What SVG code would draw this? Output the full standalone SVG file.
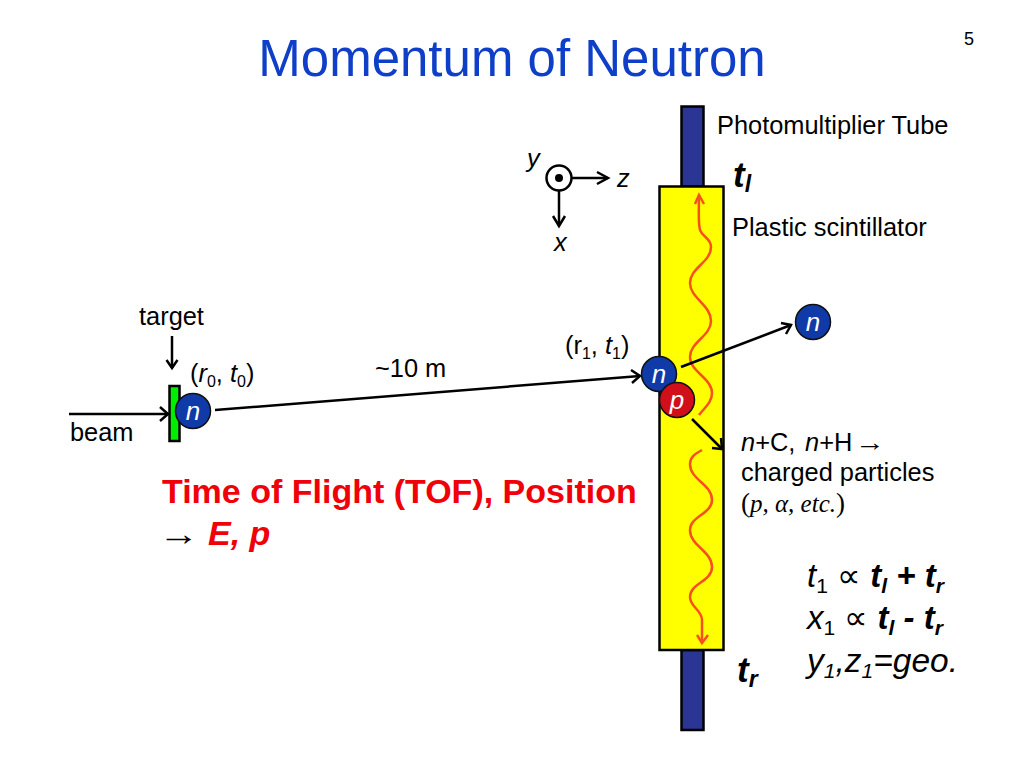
<svg xmlns="http://www.w3.org/2000/svg" width="1024" height="768" viewBox="0 0 1024 768">
<style>
text{font-family:"Liberation Sans",Arial,sans-serif;fill:#000}
.t{font-size:25.4px}
.i{font-style:italic}
.b{font-weight:bold;font-style:italic}
.ball{stroke:#111;stroke-width:1.5}
.bl{fill:#fff;font-size:26px;font-style:italic;text-anchor:middle}
.c{fill:none;stroke:#000;stroke-width:2.5}
.w{fill:none;stroke:#f5501e;stroke-width:2.5}
.f{font-size:33px}
.red{font-size:34px;font-weight:bold;fill:#f00008}
.s{font-family:"Liberation Serif",serif}
</style>
<rect width="1024" height="768" fill="#fff"/>
<text id="title" x="512" y="76" text-anchor="middle" font-size="51" style="fill:#0f3fc8">Momentum of Neutron</text>
<text x="964" y="45" font-size="18">5</text>
<g id="tube-top"><rect x="681.500" y="106.500" width="22" height="80" fill="#2b3593" stroke="#000" stroke-width="2.500"/></g>
<g id="tube-bottom"><rect x="681.500" y="650" width="22" height="80" fill="#2b3593" stroke="#000" stroke-width="2.500"/></g>
<g id="scintillator"><rect x="659.500" y="186.500" width="64" height="463.500" fill="#ff0" stroke="#000" stroke-width="2.500"/></g>
<g id="waves">
<path class="w" d="M699 195C699 212 698 222 700 230C703 238 711 238 711 247C711 262 690 268 690 283C690 298 711 305 711 321C711 336 690 342 690 357C690 372 712 378 712 393C712 403 704 408 699 415"/>
<path class="w" d="M695 204L699 195L704 204"/>
<path class="w" d="M702 450C697 453 690 456 690 464C690 480 712 484 712 500C712 514 690 516 690 530C690 546 712 551 712 567C712 582 690 583 690 597C690 607 702 610 702 620V643"/>
<path class="w" d="M697 635L702 643L708 635"/>
</g>
<g id="connectors">
<path class="c" d="M69 414H168"/><path class="c" d="M160 407L168 414L160 421"/>
<path class="c" d="M172 336V368"/><path class="c" d="M166.500 360L172 368L177.500 360"/>
<path class="c" d="M215 410L640 376"/><path class="c" d="M631 370L640 376L632 383"/>
<path class="c" d="M681 367L791 325"/><path class="c" d="M781 323L791 325L786 334"/>
<path class="c" d="M692 419L722 449"/><path class="c" d="M712 448L722 449L721 438"/>
<path class="c" d="M559 191V226"/><path class="c" d="M553 216L559 226L565 216"/>
<path class="c" d="M572 178H608"/><path class="c" d="M597 172L608 178L597 184"/>
</g>
<g id="target"><rect x="169.500" y="386" width="10" height="55" fill="#0e0" stroke="#000" stroke-width="2.500"/></g>
<g id="neutron-0"><circle class="ball" cx="193" cy="411" r="17.500" fill="#0f3aa8"/><text class="bl" x="193" y="420">n</text></g>
<g id="neutron-1"><circle class="ball" cx="659" cy="374" r="17.500" fill="#0f3aa8"/><text class="bl" x="659" y="383">n</text></g>
<g id="proton"><circle class="ball" cx="677" cy="400" r="17.500" fill="#d00f1a"/><text class="bl" x="677" y="409">p</text></g>
<g id="neutron-2"><circle class="ball" cx="813" cy="322" r="17.500" fill="#0f3aa8"/><text class="bl" x="813" y="331">n</text></g>
<g id="axes"><circle cx="559" cy="178" r="12.500" fill="#fff" stroke="#000" stroke-width="2.500"/><circle cx="559" cy="178" r="4" fill="#000"/></g>
<text class="t" x="717" y="134">Photomultiplier Tube</text>
<text class="t" x="732" y="236">Plastic scintillator</text>
<text class="i t" x="527" y="167">y</text>
<text class="i t" x="617" y="187">z</text>
<text class="i t" x="554" y="251">x</text>
<text x="733" y="187" font-size="35" class="b">t<tspan font-size="23" dy="5">l</tspan></text>
<text x="737" y="682" font-size="35" class="b">t<tspan font-size="23" dy="5">r</tspan></text>
<text class="t" x="139" y="325">target</text>
<text class="t" x="70" y="441">beam</text>
<text class="t" x="190" y="382">(<tspan class="i">r</tspan><tspan font-size="16" dy="5">0</tspan><tspan dy="-5">, </tspan><tspan class="i">t</tspan><tspan font-size="16" dy="5">0</tspan><tspan dy="-5">)</tspan></text>
<text class="t" x="565" y="354">(r<tspan font-size="16" dy="5">1</tspan><tspan dy="-5">, </tspan><tspan class="i">t</tspan><tspan font-size="16" dy="5">1</tspan><tspan dy="-5">)</tspan></text>
<text class="t" x="375" y="377">~10 m</text>
<text class="t" x="741" y="451"><tspan class="i">n</tspan>+C, <tspan class="i" x="805">n</tspan>+H</text>
<text class="s" x="855" y="451" font-size="25" textLength="30" lengthAdjust="spacingAndGlyphs">→</text>
<text class="t" x="741" y="481">charged particles</text>
<text x="741" y="512" font-size="27" class="s">(<tspan font-style="italic" font-size="25">p, α, etc.</tspan>)</text>
<text class="red" x="162" y="503">Time of Flight (TOF), Position</text>
<text class="s" x="158" y="545" font-size="33" textLength="41" lengthAdjust="spacingAndGlyphs">→</text>
<text class="red" x="208" y="545" font-style="italic">E, p</text>
<text class="f" x="807" y="587"><tspan class="i">t</tspan><tspan font-size="21" dy="6">1</tspan><tspan dy="-6"> ∝ </tspan><tspan class="b">t<tspan font-size="21" dy="6">l</tspan><tspan dy="-6"> + t</tspan><tspan font-size="21" dy="6">r</tspan></tspan></text>
<text class="f" x="807" y="629"><tspan class="i">x</tspan><tspan font-size="21" dy="6">1</tspan><tspan dy="-6"> ∝ </tspan><tspan class="b">t<tspan font-size="21" dy="6">l</tspan><tspan dy="-6"> - t</tspan><tspan font-size="21" dy="6">r</tspan></tspan></text>
<text class="i" font-size="33.500" x="807" y="672">y<tspan font-size="21" dy="6">1</tspan><tspan dy="-6">,z</tspan><tspan font-size="21" dy="6">1</tspan><tspan dy="-6">=geo.</tspan></text>
</svg>
